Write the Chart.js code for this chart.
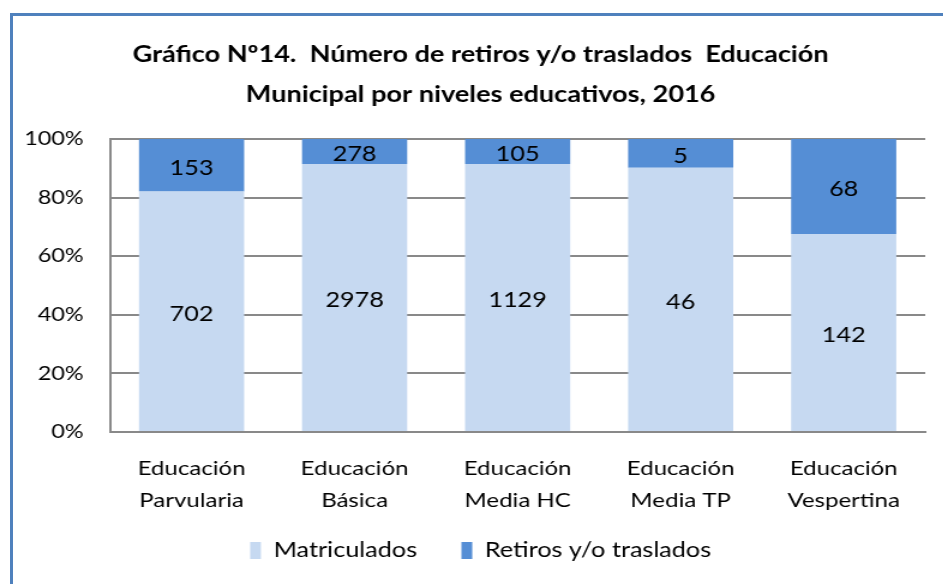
<!DOCTYPE html>
<html>
<head>
<meta charset="utf-8">
<script src="https://cdn.jsdelivr.net/npm/chart.js@4"></script>
<style>
  body{margin:0;background:#fff;}
  #wrap{position:relative;width:943px;height:584px;overflow:hidden;}
  #frame{position:absolute;left:10px;top:13px;width:1000px;height:700px;border-left:3px solid #4F81BD;border-top:3px solid #4F81BD;}
  /* the reference text looks stretched sideways, so the canvas is drawn narrow and widened */
  #myChart{position:absolute;left:0;top:0;transform:scaleX(1.2);transform-origin:0 0;}
</style>
</head>
<body>
<div id="wrap">
  <div id="frame"></div>
  <canvas id="myChart" width="786" height="584"></canvas>
</div>
<script>
var categories = [
  ["Educación", "Parvularia"],
  ["Educación", "Básica"],
  ["Educación", "Media HC"],
  ["Educación", "Media TP"],
  ["Educación", "Vespertina"]
];
var matriculados = [702, 2978, 1129, 46, 142];
var retiros = [153, 278, 105, 5, 68];
var yTicks = [0, 20, 40, 60, 80, 100];

// share of each value in its column, for the 100% stack
function share(arr){
  return arr.map(function(v, i){ return v / (matriculados[i] + retiros[i]) * 100; });
}

var FONT = "Lato, sans-serif";

// fixed axis sizes; labels may then run past the box, so don't clip them
function fixSize(prop, size){
  return function(scale){
    scale[prop] = size;
    scale._computeLabelArea = function(){ return undefined; };
  };
}

var valueLabels = {
  id: "valueLabels",
  afterDatasetsDraw: function(chart){
    var ctx = chart.ctx;
    ctx.save();
    ctx.fillStyle = "#000";
    ctx.font = "21px " + FONT;
    ctx.textAlign = "center";
    ctx.textBaseline = "middle";
    chart.data.datasets.forEach(function(ds, di){
      var meta = chart.getDatasetMeta(di);
      meta.data.forEach(function(bar, i){
        var p = bar.getProps(["x", "y", "base"], true);
        ctx.fillText(ds.raw[i], p.x, (p.y + p.base) / 2 + 3);
      });
    });
    ctx.restore();
  }
};

new Chart(document.getElementById("myChart"), {
  type: "bar",
  data: {
    labels: categories,
    datasets: [
      { label: "Matriculados", data: share(matriculados), raw: matriculados,
        backgroundColor: "#C6D9F1", barPercentage: 0.645, categoryPercentage: 1 },
      { label: "Retiros y/o traslados", data: share(retiros), raw: retiros,
        backgroundColor: "#558ED5", barPercentage: 0.645, categoryPercentage: 1 }
    ]
  },
  options: {
    responsive: false,
    animation: false,
    layout: { padding: { left: 30, right: 15, top: 35, bottom: 13 } },
    plugins: {
      tooltip: { enabled: false },
      title: {
        display: true,
        text: ["Gráfico Nº14.  Número de retiros y/o traslados  Educación", "Municipal por niveles educativos, 2016"],
        color: "#000",
        font: { family: FONT, size: 22.6, weight: "bold", lineHeight: 1.77 },
        padding: { top: 0, bottom: 24 }
      },
      legend: {
        position: "bottom",
        labels: {
          color: "#000",
          font: { family: FONT, size: 21 },
          boxWidth: 9, boxHeight: 17, padding: 37
        }
      }
    },
    scales: {
      x: {
        stacked: true,
        afterFit: fixSize("height", 71),
        grid: { display: false, drawTicks: false },
        border: { color: "#898989", width: 2 },
        ticks: { color: "#000", font: { family: FONT, size: 20, lineHeight: 1.6 }, padding: 21, maxRotation: 0 }
      },
      y: {
        stacked: true,
        min: 0, max: 100,
        afterFit: fixSize("width", 61.7),
        afterBuildTicks: function(scale){ scale.ticks = yTicks.map(function(v){ return { value: v }; }); },
        grid: { color: "#898989", lineWidth: 2, drawTicks: false },
        border: { color: "#898989", width: 2 },
        ticks: { color: "#000", font: { family: FONT, size: 19.5 }, padding: 22,
          callback: function(v){ return v + "%"; } }
      }
    }
  },
  plugins: [valueLabels]
});
</script>
</body>
</html>
